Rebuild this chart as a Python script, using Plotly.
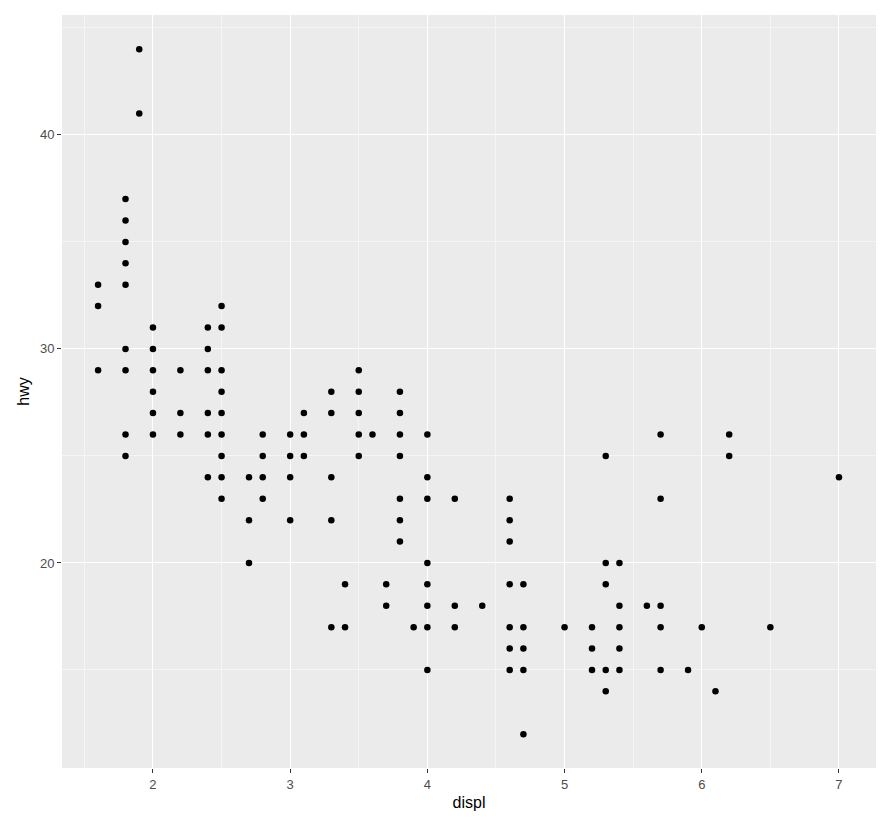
import plotly.graph_objects as go

# displ -> hwy values
displ_groups = [1.6, 1.8, 1.9, 2.0, 2.2, 2.4, 2.5, 2.7, 2.8, 3.0, 3.1, 3.3, 3.4, 3.5, 3.6,
                3.7, 3.8, 3.9, 4.0, 4.2, 4.4, 4.6, 4.7, 5.0, 5.2, 5.3, 5.4, 5.6, 5.7,
                5.9, 6.0, 6.1, 6.2, 6.5, 7.0]
hwy_groups = [
    [33, 32, 29],
    [37, 36, 35, 34, 33, 30, 29, 26, 25],
    [44, 41],
    [31, 30, 29, 28, 27, 26],
    [29, 27, 26],
    [31, 30, 29, 27, 26, 24],
    [32, 31, 29, 28, 27, 26, 25, 24, 23],
    [24, 22, 20],
    [26, 25, 24, 23],
    [26, 25, 24, 22],
    [27, 26, 25],
    [28, 27, 24, 22, 17],
    [19, 17],
    [29, 28, 27, 26, 25],
    [26],
    [19, 18],
    [28, 27, 26, 25, 23, 22, 21],
    [17],
    [26, 24, 23, 20, 19, 18, 17, 15],
    [23, 18, 17],
    [18],
    [23, 22, 21, 19, 17, 16, 15],
    [19, 17, 16, 15, 12],
    [17],
    [17, 16, 15],
    [25, 20, 19, 15, 14],
    [20, 18, 17, 16, 15],
    [18],
    [26, 23, 18, 17, 15],
    [15],
    [17],
    [14],
    [26, 25],
    [17],
    [24],
]

displ = [d for d, hs in zip(displ_groups, hwy_groups) for _ in hs]
hwy = [h for hs in hwy_groups for h in hs]

fig = go.Figure(go.Scatter(x=displ, y=hwy, mode="markers",
                           marker=dict(color="black", size=6.5)))

axis_font = dict(family="Liberation Sans, Arial", size=13, color="#4D4D4D")
title_font = dict(family="Liberation Sans, Arial", size=16, color="black")
fig.update_layout(
    width=896, height=833,
    margin=dict(l=54, r=28, t=7, b=73),
    paper_bgcolor="white", plot_bgcolor="#EBEBEB",
    showlegend=False,
    xaxis=dict(range=[1.337, 7.27], dtick=1, gridcolor="white", gridwidth=1.2,
               minor=dict(dtick=0.5, gridcolor="#F5F5F5", gridwidth=0.6, showgrid=True),
               zeroline=False, ticks="outside", ticklen=4, tickcolor="#333",
               tickfont=axis_font,
               title=dict(text="displ", font=title_font, standoff=6)),
    yaxis=dict(range=[10.42, 45.6], tickvals=[20, 30, 40], gridcolor="white", gridwidth=1.2,
               minor=dict(tickvals=[15, 25, 35, 45], gridcolor="#F5F5F5", gridwidth=0.6, showgrid=True),
               zeroline=False, ticks="outside", ticklen=4, tickcolor="#333",
               tickfont=axis_font,
               title=dict(text="hwy", font=title_font, standoff=6)),
)

fig.write_html("out.html")
